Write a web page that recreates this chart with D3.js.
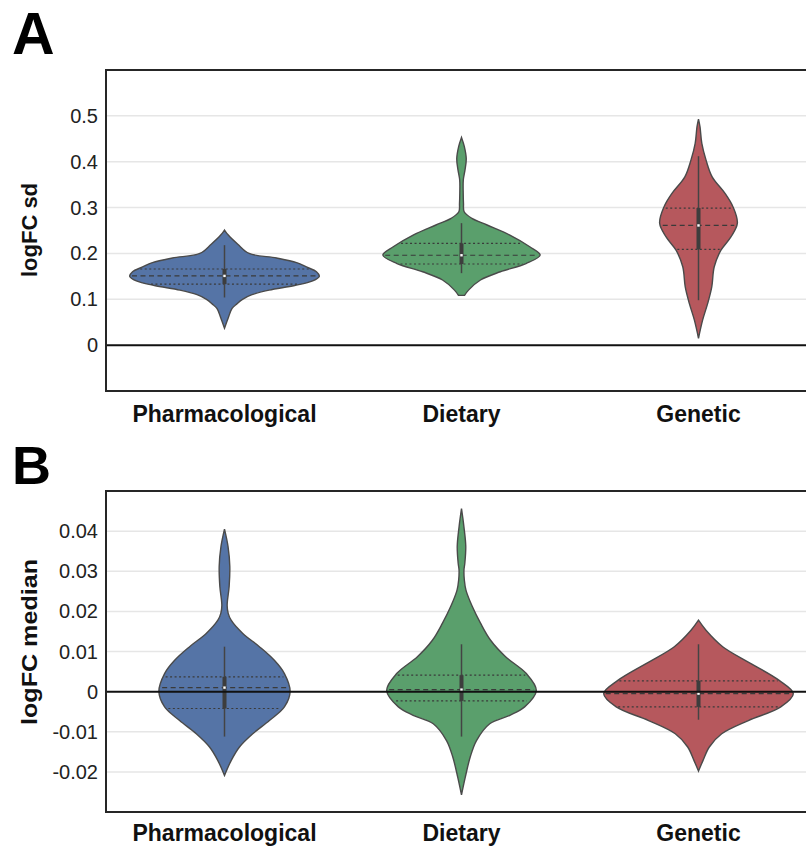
<!DOCTYPE html>
<html><head><meta charset="utf-8">
<script src="https://cdn.jsdelivr.net/npm/d3@7/dist/d3.min.js"></script>
<style>body{margin:0;background:#fff}svg{display:block}text{font-family:"Liberation Sans",Arial,sans-serif}</style>
</head><body><svg id="c" width="806" height="847"></svg>
<script>
const categories = ["Pharmacological","Dietary","Genetic"];
const colors = ["#5574a6","#5a9f6c","#b6585d"];

// Panel A: logFC sd — density profiles [value, relative density]
const sdPharm = [[0.251,0],[0.24,0.04],[0.22,0.14],[0.20,0.26],[0.19,0.55],[0.18,0.76],[0.17,0.87],[0.16,0.97],[0.15,1.0],[0.14,0.93],[0.13,0.74],[0.12,0.47],[0.11,0.29],[0.10,0.19],[0.09,0.13],[0.08,0.08],[0.06,0.04],[0.037,0]];
const sdDiet = [[0.453,0],[0.433,0.03],[0.407,0.05],[0.382,0.037],[0.36,0.019],[0.331,0.018],[0.309,0.021],[0.291,0.028],[0.2765,0.11],[0.262,0.27],[0.24,0.51],[0.2146,0.72],[0.1965,0.83],[0.178,0.68],[0.16,0.41],[0.142,0.20],[0.12,0.074],[0.1085,0.032]];
const sdGen = [[0.493,0],[0.476,0.016],[0.44,0.035],[0.404,0.079],[0.367,0.144],[0.331,0.28],[0.302,0.363],[0.266,0.41],[0.236,0.342],[0.207,0.237],[0.171,0.166],[0.127,0.14],[0.091,0.097],[0.055,0.044],[0.015,0]];
// [whiskerLow, q1, median, q3, whiskerHigh]
const sdStats = [[0.104,0.133,0.151,0.166,0.218],[0.157,0.177,0.196,0.222,0.266],[0.098,0.209,0.261,0.299,0.412]];
const sdTicks = [0,0.1,0.2,0.3,0.4,0.5];
const sdTickLabels = ["0","0.1","0.2","0.3","0.4","0.5"];

// Panel B: logFC median
const medPharm = [[0.0405,0],[0.0362,0.037],[0.0312,0.056],[0.0262,0.049],[0.0215,0.028],[0.0195,0.039],[0.0178,0.07],[0.0145,0.193],[0.0112,0.368],[0.0078,0.526],[0.0045,0.632],[0.0,0.692],[-0.0038,0.632],[-0.0072,0.474],[-0.0105,0.298],[-0.0138,0.158],[-0.0172,0.07],[-0.0209,0]];
const medDiet = [[0.0456,0],[0.0412,0.025],[0.0362,0.045],[0.032,0.035],[0.0303,0.026],[0.0278,0.03],[0.0253,0.047],[0.0212,0.114],[0.017,0.202],[0.0128,0.307],[0.0087,0.465],[0.0045,0.684],[0.0003,0.789],[-0.0038,0.666],[-0.0059,0.51],[-0.008,0.298],[-0.0122,0.158],[-0.0163,0.092],[-0.0213,0.04],[-0.0257,0]];
const medGen = [[0.0178,0],[0.0153,0.079],[0.0112,0.255],[0.007,0.553],[0.0028,0.851],[-0.0005,1.0],[-0.0038,0.868],[-0.0072,0.526],[-0.0105,0.245],[-0.0138,0.114],[-0.0172,0.047],[-0.0198,0]];
const medStats = [[-0.0112,-0.0042,0.001,0.0037,0.0112],[-0.0112,-0.0023,0.0005,0.0041,0.0118],[-0.007,-0.0038,-0.0005,0.0027,0.0118]];
const medTicks = [-0.02,-0.01,0,0.01,0.02,0.03,0.04];
const medTickLabels = ["-0.02","-0.01","0","0.01","0.02","0.03","0.04"];

const svg = d3.select("#c");

function densAt(prof, v){
  for(let i=0;i<prof.length-1;i++){
    const a=prof[i], b=prof[i+1];
    if((v<=a[0]&&v>=b[0])){
      const t=(a[0]-v)/(a[0]-b[0]||1);
      return a[1]+(b[1]-a[1])*t;
    }
  }
  return 0;
}

function panel(opt){
  const g = svg.append("g");
  const x = d3.scaleBand().domain(categories).range([106,817]).padding(0);
  const y = d3.scaleLinear().domain(opt.domain).range([opt.bottom,opt.top]);
  const w = d3.scaleLinear().domain([0,1]).range([0,x.bandwidth()*0.4]);
  // grid
  g.selectAll(".grid").data(opt.ticks.filter(t=>t!==0)).join("line")
    .attr("x1",106).attr("x2",817).attr("y1",d=>y(d)).attr("y2",d=>y(d))
    .attr("stroke","#e6e6e6").attr("stroke-width",1.5);
  // tick labels
  g.selectAll(".tl").data(opt.ticks).join("text")
    .attr("x",98).attr("y",d=>y(d)).attr("dy","0.35em").attr("text-anchor","end")
    .attr("font-size",20).attr("fill","#222").text((d,i)=>opt.tickLabels[i]);
  // violins
  opt.profiles.forEach((prof,i)=>{
    const cx = x(categories[i]) + x.bandwidth()/2;
    const area = d3.area().curve(d3.curveCatmullRom.alpha(0.5))
      .y(d=>y(d[0])).x0(d=>cx-w(d[1])).x1(d=>cx+w(d[1]));
    g.append("path").attr("d",area(prof)).attr("fill",colors[i])
      .attr("stroke","#4a4a4a").attr("stroke-width",1.4);
    const s = opt.stats[i];
    // quartile lines
    [[s[1],"2,2.5"],[s[2],"5,3.5"],[s[3],"2,2.5"]].forEach(([v,dash])=>{
      const hw = w(densAt(prof,v));
      g.append("line").attr("x1",cx-hw+2).attr("x2",cx+hw-2).attr("y1",y(v)).attr("y2",y(v))
        .attr("stroke","#3a3a3a").attr("stroke-width",1.2).attr("stroke-dasharray",dash);
    });
    g.append("line").attr("x1",cx).attr("x2",cx).attr("y1",y(s[0])).attr("y2",y(s[4]))
      .attr("stroke","#444").attr("stroke-width",1.5);
    g.append("line").attr("x1",cx).attr("x2",cx).attr("y1",y(s[1])).attr("y2",y(s[3]))
      .attr("stroke","#3d3d3d").attr("stroke-width",4);
    g.append("rect").attr("x",cx-1.2).attr("y",y(s[2])-1.2).attr("width",2.4).attr("height",2.4)
      .attr("fill","#fff");
  });
  // zero line
  g.append("line").attr("x1",106).attr("x2",817).attr("y1",y(0)).attr("y2",y(0))
    .attr("stroke","#111").attr("stroke-width",2);
  // frame
  g.append("rect").attr("x",106).attr("y",opt.top).attr("width",711).attr("height",opt.bottom-opt.top)
    .attr("fill","none").attr("stroke","#262626").attr("stroke-width",2);
  // x labels
  g.selectAll(".xl").data(categories).join("text")
    .attr("x",d=>x(d)+x.bandwidth()/2).attr("y",opt.xLabelY).attr("text-anchor","middle")
    .attr("font-size",23).attr("font-weight","bold").attr("fill","#111").text(d=>d);
  // y label
  const yl = g.append("text").attr("transform",`translate(37,${opt.yLabelC}) rotate(-90)`)
    .attr("text-anchor","middle").attr("font-size",22).attr("font-weight","bold").attr("fill","#111")
    .text(opt.yLabel);
  if(opt.yLabelLen) yl.attr("textLength",opt.yLabelLen).attr("lengthAdjust","spacingAndGlyphs");
  // panel letter
  g.append("text").attr("x",12).attr("y",opt.letterY).attr("font-size",opt.letterSize)
    .attr("font-weight","bold").attr("fill","#000").text(opt.letter);
}

panel({domain:[-0.1,0.6],top:70,bottom:391,ticks:sdTicks,tickLabels:sdTickLabels,
  profiles:[sdPharm,sdDiet,sdGen],stats:sdStats,xLabelY:421.5,yLabel:"logFC sd",yLabelC:230,
  letter:"A",letterY:53.5,letterSize:59});
panel({domain:[-0.03,0.05],top:491,bottom:812,ticks:medTicks,tickLabels:medTickLabels,
  profiles:[medPharm,medDiet,medGen],stats:medStats,xLabelY:841,yLabel:"logFC median",yLabelC:642,yLabelLen:166,
  letter:"B",letterY:484,letterSize:54});
</script></body></html>
